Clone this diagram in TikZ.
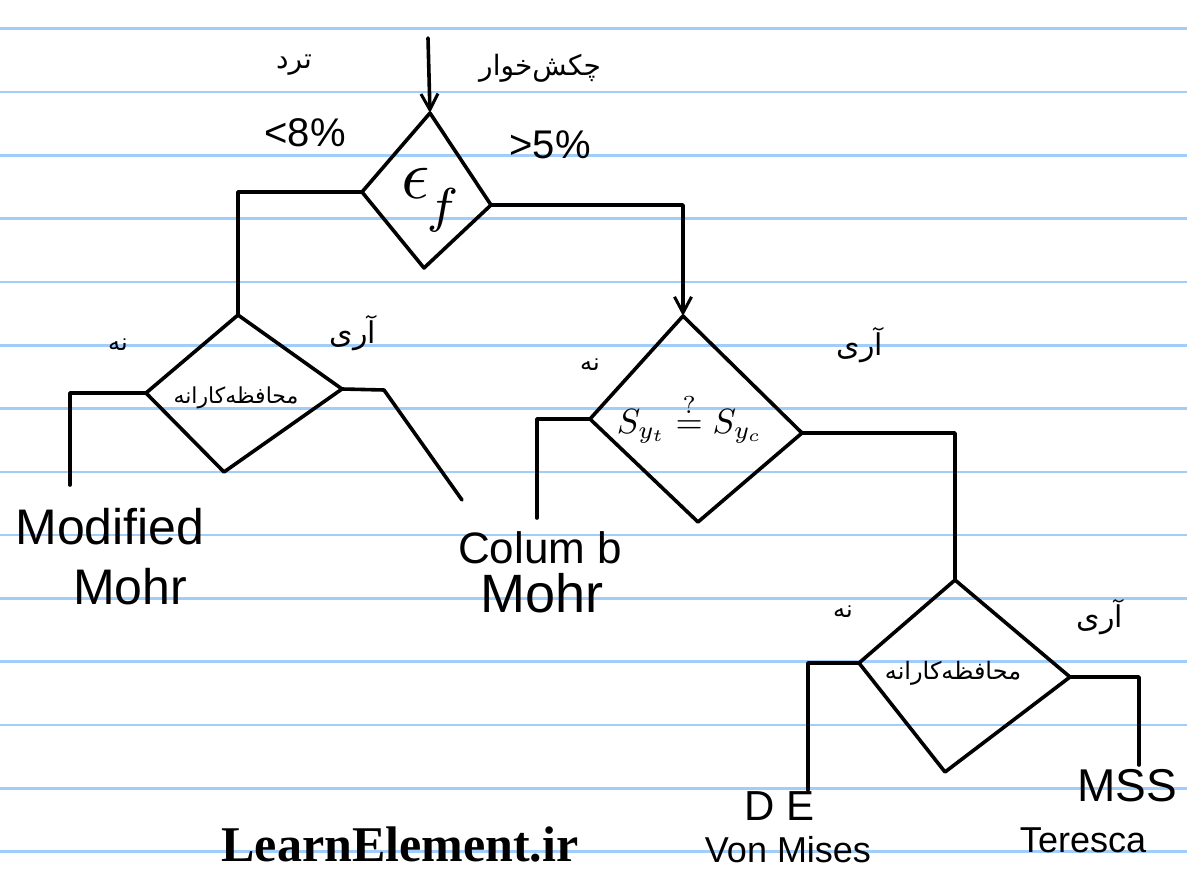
\documentclass[tikz,border=0pt]{standalone}
\usepackage{fontspec}
\setmainfont{Liberation Serif}
\newfontfamily\handfont{Liberation Sans}
\newfontfamily\farsifont[Script=Arabic]{DejaVu Sans}
\TeXXeTstate=1
\usetikzlibrary{arrows.meta}
\definecolor{ruleblue}{RGB}{160,205,250}
\newcommand{\fatext}[2]{{\fontsize{#1}{#1}\selectfont\farsifont\beginR #2\endR}}
\newcommand{\hw}[2]{{\fontsize{#1}{#1}\selectfont\handfont #2}}
\tikzset{
  flow/.style={line width=3.6pt, line cap=round, line join=round},
  barb/.style={-{Straight Barb[length=16pt,width=17pt,line width=3pt]}},
  ruling/.style={draw=ruleblue, line width=2.6pt},
  lbl/.style={inner sep=0pt, outer sep=0pt},
}
\begin{document}
\begin{tikzpicture}[x=1pt,y=-1pt]
% paper and ruling
\fill[white] (0,0) rectangle (1187,869);
\useasboundingbox (0,0) rectangle (1187,869);
\foreach \k in {0,...,13}
  \draw[ruling] (0,{28.7+63.3*\k}) -- (1187,{28.7+63.3*\k});

% decision vertices
\coordinate (d1t) at (430,113); \coordinate (d1l) at (362,192);
\coordinate (d1b) at (424,268); \coordinate (d1r) at (491,205);
\coordinate (d2t) at (238,315); \coordinate (d2l) at (146,393);
\coordinate (d2b) at (224,472); \coordinate (d2r) at (342,389);
\coordinate (d3t) at (683,316); \coordinate (d3l) at (590,419);
\coordinate (d3b) at (698,522); \coordinate (d3r) at (802,433);
\coordinate (d4t) at (955,580); \coordinate (d4l) at (859,663);
\coordinate (d4b) at (945,772); \coordinate (d4r) at (1070,677);

% free ends of connectors
\coordinate (start) at (428,38);
\coordinate (e1) at (70,485);
\coordinate (k2) at (384,390); \coordinate (e2) at (462,500);
\coordinate (e3) at (537,518);
\coordinate (e4) at (808,790);
\coordinate (e5) at (1139,765);

% decisions
\draw[flow] (d1t) -- (d1r) -- (d1b) -- (d1l) -- cycle;
\draw[flow] (d2t) -- (d2r) -- (d2b) -- (d2l) -- cycle;
\draw[flow] (d3t) -- (d3r) -- (d3b) -- (d3l) -- cycle;
\draw[flow] (d4t) -- (d4r) -- (d4b) -- (d4l) -- cycle;

% connectors
\draw[flow,barb] (start) -- (d1t);
\draw[flow] (d1l) -| (d2t);
\draw[flow,barb] (d1r) -| (d3t);
\draw[flow] (d2l) -| (e1);
\draw[flow] (d2r) -- (k2) -- (e2);
\draw[flow] (d3l) -| (e3);
\draw[flow] (d3r) -| (d4t);
\draw[flow] (d4l) -| (e4);
\draw[flow] (d4r) -| (e5);

% texts inside the decisions
\node[lbl] (q1) at (430,200) {\scalebox{7}{$\epsilon$\kern-0.5pt\raisebox{-3.5pt}{$\scriptstyle f$}}};
\node[lbl] (q2) at (236,398) {\fatext{22}{محافظه‌کارانه}};
\node[lbl] (q3) at (690,418) {\scalebox{3.5}{$S_{y_t}\stackrel{?}{=}S_{y_c}$}};
\node[lbl] (q4) at (953,673) {\fatext{24}{محافظه‌کارانه}};

% branch labels
\node[lbl] (brittle) at (294,65) {\fatext{28}{ترد}};
\node[lbl] (less) at (305,133) {\hw{40}{<8\%}};
\node[lbl] (ductile) at (540,68) {\fatext{28}{چکش‌خوار}};
\node[lbl] (more) at (550,145) {\hw{40}{>5\%}};
\node[lbl] (no2) at (118,345) {\fatext{24}{نه}};
\node[lbl] (yes2) at (353,333) {\fatext{30}{آری}};
\node[lbl] (no3) at (590,365) {\fatext{24}{نه}};
\node[lbl] (yes3) at (860,345) {\fatext{30}{آری}};
\node[lbl] (no4) at (843,612) {\fatext{24}{نه}};
\node[lbl] (yes4) at (1100,617) {\fatext{30}{آری}};

% outcomes
\node[lbl] (mm1) at (110,527) {\hw{50}{Modified}};
\node[lbl] (mm2) at (130,587) {\hw{50}{Mohr}};
\node[lbl] (cm1) at (540,548) {\hw{44}{Colum b}};
\node[lbl] (cm2) at (542,593) {\hw{54}{Mohr}};
\node[lbl] (de1) at (780,806) {\hw{42}{D E}};
\node[lbl] (de2) at (788,850) {\hw{36}{Von Mises}};
\node[lbl] (ms1) at (1127,786) {\hw{46}{MSS}};
\node[lbl] (ms2) at (1083,840) {\hw{36}{Teresca}};

% site mark
\node[lbl, anchor=base] (site) at (400,861) {\fontsize{50}{50}\selectfont\bfseries LearnElement.ir};
\end{tikzpicture}
\end{document}
